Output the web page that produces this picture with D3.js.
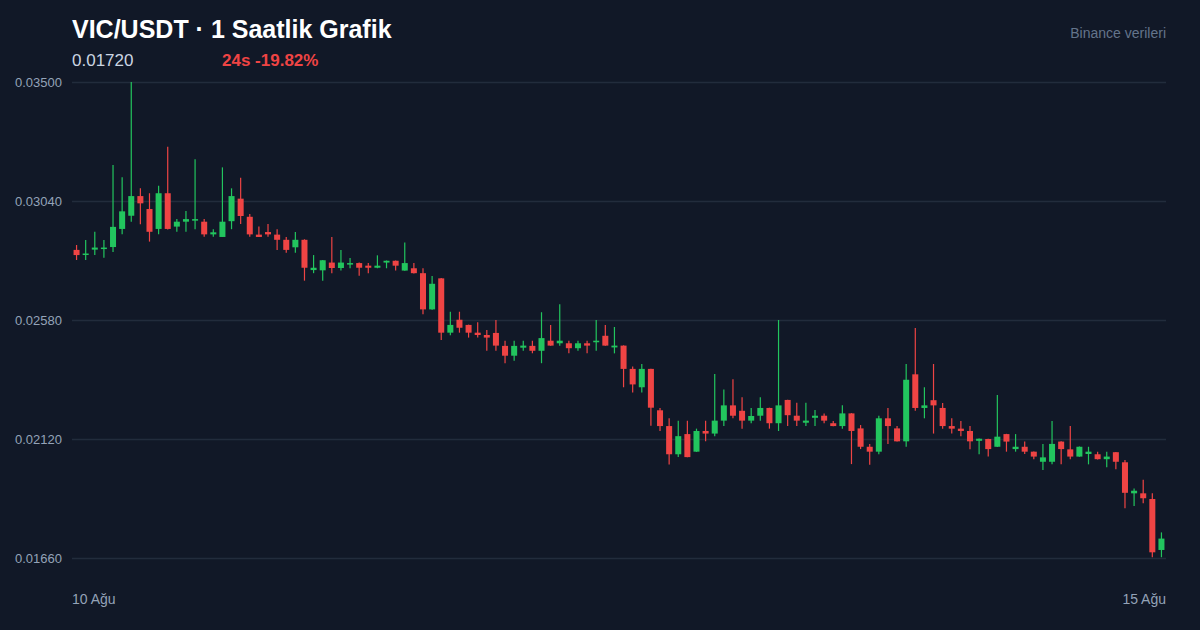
<!DOCTYPE html>
<html><head><meta charset="utf-8">
<script src="https://cdn.jsdelivr.net/npm/d3@7/dist/d3.min.js"></script>
<style>
html,body{margin:0;padding:0;background:#111827;}
svg{display:block;font-family:"Liberation Sans",Arial,Helvetica,sans-serif;}
</style></head>
<body>
<svg id="c" width="1200" height="630"></svg>
<script>
// Data (hourly candles, 10 Ağu -> 15 Ağu)
const opens = [0.02851,0.02833,0.02852,0.02855,0.02862,0.02932,0.02983,0.03059,0.03009,0.02932,
0.03070,0.02941,0.02960,0.02964,0.02960,0.02911,0.02901,0.02962,0.03049,0.02979,
0.02910,0.02920,0.02910,0.02890,0.02861,0.02890,0.02773,0.02772,0.02802,0.02781,
0.02795,0.02800,0.02790,0.02782,0.02802,0.02809,0.02771,0.02780,0.02761,0.02621,
0.02741,0.02531,0.02581,0.02561,0.02531,0.02522,0.02530,0.02480,0.02442,0.02473,
0.02480,0.02461,0.02500,0.02490,0.02490,0.02471,0.02490,0.02494,0.02519,0.02474,
0.02481,0.02391,0.02320,0.02391,0.02231,0.02170,0.02061,0.02139,0.02071,0.02151,
0.02141,0.02191,0.02250,0.02229,0.02191,0.02210,0.02240,0.02181,0.02271,0.02210,
0.02183,0.02202,0.02210,0.02181,0.02170,0.02219,0.02161,0.02090,0.02071,0.02200,
0.02161,0.02111,0.02370,0.02240,0.02270,0.02240,0.02170,0.02160,0.02151,0.02113,
0.02120,0.02090,0.02139,0.02081,0.02090,0.02071,0.02032,0.02032,0.02110,0.02080,
0.02052,0.02062,0.02061,0.02042,0.02069,0.02030,0.01910,0.01910,0.01888,0.01691];
const highs = [0.02870,0.02889,0.02921,0.02889,0.03179,0.03132,0.03500,0.03089,0.03070,0.03099,
0.03250,0.02970,0.03001,0.03201,0.02970,0.02931,0.03170,0.03089,0.03130,0.02990,
0.02941,0.02951,0.02931,0.02901,0.02920,0.02892,0.02831,0.02812,0.02901,0.02851,
0.02820,0.02802,0.02800,0.02830,0.02810,0.02810,0.02880,0.02800,0.02780,0.02750,
0.02742,0.02612,0.02612,0.02562,0.02571,0.02541,0.02580,0.02500,0.02500,0.02500,
0.02500,0.02610,0.02561,0.02641,0.02500,0.02500,0.02500,0.02580,0.02561,0.02553,
0.02482,0.02400,0.02410,0.02392,0.02240,0.02200,0.02191,0.02191,0.02160,0.02191,
0.02371,0.02311,0.02351,0.02281,0.02240,0.02281,0.02241,0.02580,0.02272,0.02260,
0.02260,0.02232,0.02219,0.02190,0.02250,0.02220,0.02174,0.02101,0.02210,0.02240,
0.02170,0.02410,0.02549,0.02320,0.02410,0.02259,0.02200,0.02190,0.02170,0.02122,
0.02121,0.02290,0.02140,0.02139,0.02110,0.02072,0.02101,0.02190,0.02111,0.02170,
0.02091,0.02090,0.02071,0.02071,0.02070,0.02039,0.01929,0.01962,0.01910,0.01759];
const lows = [0.02812,0.02812,0.02831,0.02821,0.02843,0.02911,0.02960,0.02950,0.02883,0.02911,
0.02930,0.02921,0.02921,0.02931,0.02902,0.02902,0.02901,0.02931,0.02951,0.02902,
0.02901,0.02902,0.02851,0.02840,0.02840,0.02732,0.02761,0.02732,0.02761,0.02771,
0.02780,0.02751,0.02761,0.02780,0.02780,0.02771,0.02770,0.02760,0.02602,0.02620,
0.02503,0.02521,0.02531,0.02512,0.02512,0.02461,0.02461,0.02413,0.02422,0.02461,
0.02451,0.02413,0.02480,0.02480,0.02451,0.02461,0.02451,0.02461,0.02480,0.02451,
0.02320,0.02300,0.02300,0.02171,0.02151,0.02021,0.02050,0.02049,0.02070,0.02111,
0.02131,0.02170,0.02200,0.02160,0.02181,0.02191,0.02160,0.02151,0.02170,0.02170,
0.02170,0.02170,0.02181,0.02169,0.02160,0.02023,0.02081,0.02020,0.02061,0.02101,
0.02110,0.02090,0.02229,0.02200,0.02141,0.02160,0.02141,0.02131,0.02080,0.02061,
0.02052,0.02089,0.02071,0.02071,0.02062,0.02042,0.02000,0.02022,0.02022,0.02042,
0.02051,0.02022,0.02041,0.02011,0.02003,0.01852,0.01861,0.01872,0.01663,0.01663];
const closes = [0.02831,0.02837,0.02860,0.02860,0.02940,0.03000,0.03059,0.03031,0.02921,0.03070,
0.02932,0.02960,0.02970,0.02970,0.02911,0.02919,0.02960,0.03059,0.02982,0.02911,
0.02901,0.02911,0.02890,0.02851,0.02890,0.02782,0.02782,0.02811,0.02781,0.02802,
0.02800,0.02782,0.02782,0.02790,0.02809,0.02790,0.02800,0.02761,0.02621,0.02720,
0.02531,0.02561,0.02550,0.02531,0.02522,0.02512,0.02481,0.02442,0.02480,0.02481,
0.02461,0.02510,0.02481,0.02500,0.02471,0.02490,0.02481,0.02500,0.02481,0.02481,
0.02391,0.02331,0.02391,0.02241,0.02170,0.02061,0.02131,0.02050,0.02151,0.02141,
0.02191,0.02250,0.02210,0.02191,0.02209,0.02240,0.02181,0.02250,0.02212,0.02191,
0.02191,0.02210,0.02191,0.02170,0.02219,0.02151,0.02090,0.02071,0.02200,0.02170,
0.02111,0.02349,0.02240,0.02250,0.02250,0.02170,0.02160,0.02151,0.02111,0.02121,
0.02081,0.02129,0.02110,0.02090,0.02071,0.02052,0.02049,0.02101,0.02081,0.02052,
0.02090,0.02071,0.02042,0.02052,0.02032,0.01912,0.01920,0.01891,0.01682,0.01735];
const yTicks = [0.0166, 0.0212, 0.0258, 0.0304, 0.0350];
const xLabels = ["10 Ağu", "15 Ağu"];
const titleText = "VIC/USDT · 1 Saatlik Grafik";
const lastPrice = "0.01720";
const changeText = "24s -19.82%";
const sourceText = "Binance verileri";

(function(){
const candles = opens.map((o,i)=>({i, o, h:highs[i], l:lows[i], c:closes[i]}));

const svg = d3.select("#c");
const W = 1200, H = 630;
const pl = 72, pr = 1166, pt = 82, pb = 558;
svg.append("rect").attr("width",W).attr("height",H).attr("fill","#111827");

const x = d3.scaleBand().domain(candles.map(d=>d.i)).range([pl,pr]).paddingInner(0.34).paddingOuter(0.17);
const y = d3.scaleLinear().domain([0.0166,0.035]).range([pb,pt]);

// grid
const yAxis = d3.axisLeft(y).tickValues(yTicks).tickFormat(d3.format(".5f")).tickSize(-(pr-pl)).tickPadding(10);
const ga = svg.append("g").attr("transform",`translate(${pl},0)`).call(yAxis);
ga.select(".domain").remove();
ga.selectAll(".tick line").attr("stroke","#222c3c").attr("stroke-width",1.3);
ga.selectAll(".tick text").attr("fill","#94a3b8").attr("font-size",13).attr("font-family","Liberation Sans, Arial, sans-serif");

const green = "#22c55e", red = "#ef4444";
const g = svg.append("g");
const cg = g.selectAll("g.c").data(candles).join("g");
cg.append("line")
  .attr("x1",d=>x(d.i)+x.bandwidth()/2).attr("x2",d=>x(d.i)+x.bandwidth()/2)
  .attr("y1",d=>y(d.h)).attr("y2",d=>y(d.l))
  .attr("stroke",d=>d.c>=d.o?green:red).attr("stroke-width",1.2);
cg.append("rect")
  .attr("x",d=>x(d.i)).attr("width",x.bandwidth())
  .attr("y",d=>y(Math.max(d.o,d.c)))
  .attr("height",d=>Math.max(1.5, Math.abs(y(d.o)-y(d.c))))
  .attr("fill",d=>d.c>=d.o?green:red);

// x labels
svg.append("text").attr("x",pl).attr("y",604).attr("fill","#94a3b8").attr("font-size",14).text(xLabels[0]);
svg.append("text").attr("x",pr).attr("y",604).attr("text-anchor","end").attr("fill","#94a3b8").attr("font-size",14).text(xLabels[1]);

// header
svg.append("text").attr("x",72).attr("y",38).attr("fill","#ffffff").attr("font-size",25).attr("font-weight","bold").text(titleText);
svg.append("text").attr("x",72).attr("y",66).attr("fill","#cbd5e1").attr("font-size",17).text(lastPrice);
svg.append("text").attr("x",222).attr("y",66).attr("fill",red).attr("font-size",17).attr("font-weight","bold").text(changeText);
svg.append("text").attr("x",1166).attr("y",38).attr("text-anchor","end").attr("fill","#64748b").attr("font-size",14).text(sourceText);
})();
</script>
</body></html>
